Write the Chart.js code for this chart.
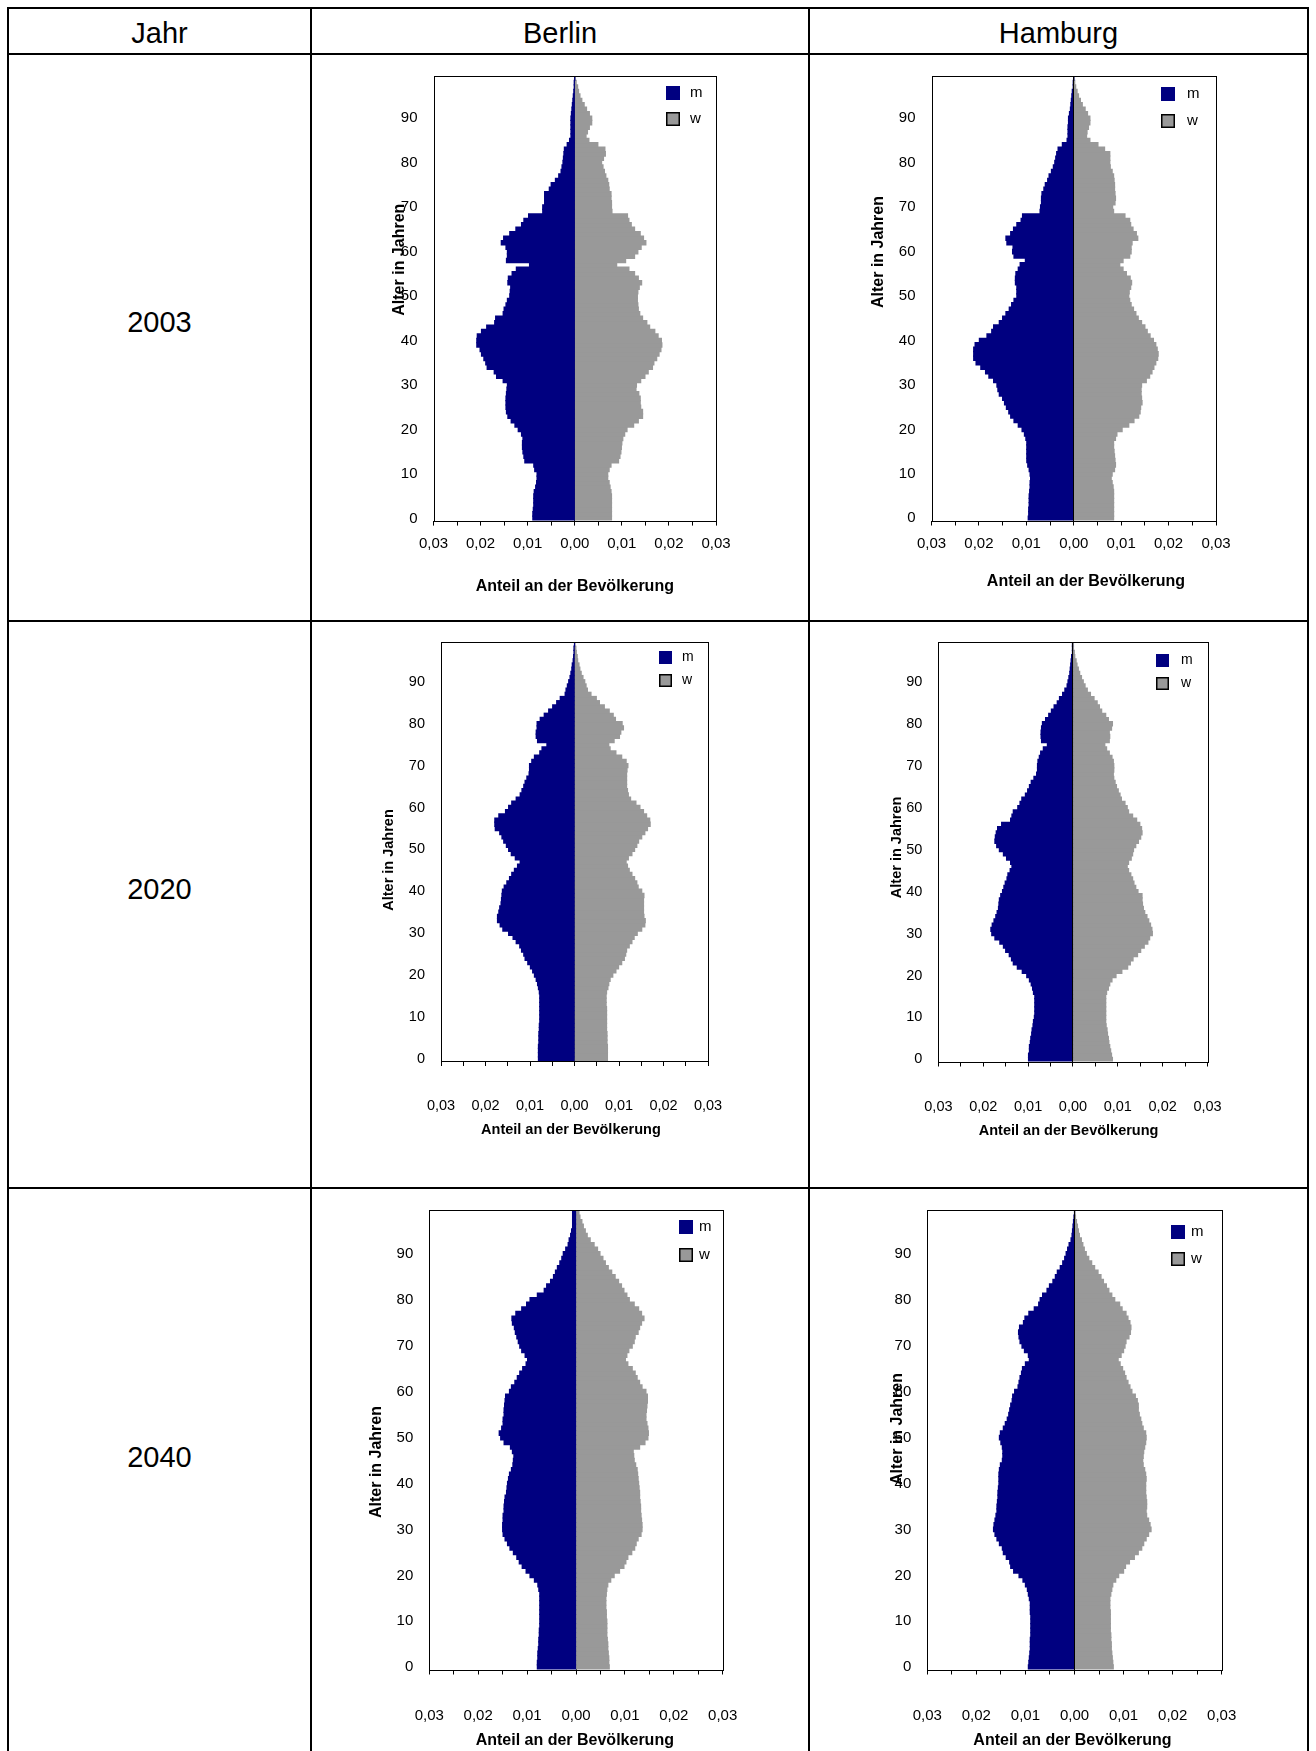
<!DOCTYPE html>
<html lang="de">
<head>
<meta charset="utf-8">
<title>Bevölkerungspyramiden Berlin und Hamburg</title>
<script src="https://cdn.jsdelivr.net/npm/chart.js@4.4.1/dist/chart.umd.min.js"></script>
<style>
  html, body { margin: 0; padding: 0; background: #fff; }
  body { width: 1316px; height: 1751px; position: relative; overflow: hidden; font-family: "Liberation Sans", Arial, sans-serif; color: #000; }
  .hl { position: absolute; left: 7px; width: 1302px; height: 2px; background: #000; }
  .vl { position: absolute; top: 7px; width: 2px; height: 1800px; background: #000; }
  .txt { position: absolute; font-size: 29px; line-height: 34px; height: 34px; text-align: center; }
  canvas { position: absolute; }
</style>
</head>
<body>
<!-- Tabellenlinien -->
<div class="hl" style="top:7px"></div>
<div class="hl" style="top:53px"></div>
<div class="hl" style="top:620px"></div>
<div class="hl" style="top:1187px"></div>
<div class="vl" style="left:7px"></div>
<div class="vl" style="left:310px"></div>
<div class="vl" style="left:808px"></div>
<div class="vl" style="left:1307px"></div>

<div class="txt" style="left:9px;width:301px;top:16px">Jahr</div>
<div class="txt" style="left:312px;width:496px;top:16px">Berlin</div>
<div class="txt" style="left:810px;width:497px;top:16px">Hamburg</div>
<div class="txt" style="left:9px;width:301px;top:305px">2003</div>
<div class="txt" style="left:9px;width:301px;top:872px">2020</div>
<div class="txt" style="left:9px;width:301px;top:1440px">2040</div>

<canvas id="b03" width="496" height="565" style="left:312px;top:55px"></canvas>
<canvas id="h03" width="497" height="565" style="left:810px;top:55px"></canvas>
<canvas id="b20" width="496" height="565" style="left:312px;top:622px"></canvas>
<canvas id="h20" width="497" height="565" style="left:810px;top:622px"></canvas>
<canvas id="b40" width="496" height="565" style="left:312px;top:1189px"></canvas>
<canvas id="h40" width="497" height="565" style="left:810px;top:1189px"></canvas>

<script>
// Alter 0..99 (Kategorien), Anteil an der Bevölkerung je Altersjahr
const ages = Array.from({ length: 100 }, (_, i) => i);
const ageTicks = [0, 10, 20, 30, 40, 50, 60, 70, 80, 90];
const xTickLabels = ['0,03', '0,02', '0,01', '0,00', '0,01', '0,02', '0,03'];
const yTitle = 'Alter in Jahren';
const xTitle = 'Anteil an der Bevölkerung';

const berlin2003M = [
  0.0089, 0.0089, 0.0088, 0.0087, 0.0087, 0.0087, 0.0086, 0.0083, 0.0081, 0.0080,
  0.0080, 0.0085, 0.0087, 0.0106, 0.0108, 0.0110, 0.0111, 0.0111, 0.0110, 0.0113,
  0.0120, 0.0127, 0.0135, 0.0142, 0.0145, 0.0146, 0.0146, 0.0146, 0.0145, 0.0144,
  0.0143, 0.0152, 0.0166, 0.0171, 0.0186, 0.0189, 0.0193, 0.0198, 0.0201, 0.0208,
  0.0208, 0.0207, 0.0198, 0.0187, 0.0170, 0.0168, 0.0152, 0.0150, 0.0146, 0.0143,
  0.0138, 0.0137, 0.0136, 0.0142, 0.0141, 0.0133, 0.0124, 0.0096, 0.0145, 0.0143,
  0.0143, 0.0146, 0.0156, 0.0151, 0.0138, 0.0125, 0.0113, 0.0108, 0.0098, 0.0068,
  0.0068, 0.0064, 0.0064, 0.0064, 0.0054, 0.0050, 0.0041, 0.0034, 0.0029, 0.0027,
  0.0025, 0.0024, 0.0023, 0.0022, 0.0016, 0.0011, 0.0008, 0.0008, 0.0008, 0.0008,
  0.0008, 0.0007, 0.0006, 0.0005, 0.0004, 0.0003, 0.0002, 0.0001, 0.0001, 0.0000
];
const berlin2003W = [
  0.0078, 0.0078, 0.0078, 0.0078, 0.0078, 0.0078, 0.0077, 0.0075, 0.0073, 0.0070,
  0.0070, 0.0073, 0.0077, 0.0093, 0.0096, 0.0098, 0.0099, 0.0100, 0.0102, 0.0106,
  0.0111, 0.0125, 0.0135, 0.0144, 0.0144, 0.0140, 0.0139, 0.0139, 0.0136, 0.0130,
  0.0131, 0.0140, 0.0149, 0.0156, 0.0165, 0.0168, 0.0174, 0.0179, 0.0183, 0.0185,
  0.0184, 0.0177, 0.0170, 0.0159, 0.0153, 0.0144, 0.0138, 0.0135, 0.0134, 0.0133,
  0.0133, 0.0134, 0.0137, 0.0142, 0.0135, 0.0127, 0.0115, 0.0089, 0.0108, 0.0127,
  0.0134, 0.0141, 0.0151, 0.0146, 0.0139, 0.0127, 0.0120, 0.0115, 0.0112, 0.0079,
  0.0078, 0.0078, 0.0077, 0.0077, 0.0073, 0.0072, 0.0070, 0.0066, 0.0063, 0.0060,
  0.0057, 0.0061, 0.0065, 0.0064, 0.0049, 0.0030, 0.0024, 0.0027, 0.0031, 0.0036,
  0.0036, 0.0031, 0.0025, 0.0020, 0.0015, 0.0011, 0.0008, 0.0006, 0.0003, 0.0001
];
const hamburg2003M = [
  0.0096, 0.0095, 0.0095, 0.0094, 0.0094, 0.0094, 0.0093, 0.0092, 0.0092, 0.0091,
  0.0092, 0.0094, 0.0097, 0.0099, 0.0099, 0.0099, 0.0099, 0.0099, 0.0101, 0.0104,
  0.0109, 0.0117, 0.0126, 0.0133, 0.0137, 0.0142, 0.0146, 0.0150, 0.0157, 0.0160,
  0.0162, 0.0169, 0.0179, 0.0186, 0.0196, 0.0206, 0.0211, 0.0211, 0.0211, 0.0208,
  0.0199, 0.0183, 0.0173, 0.0169, 0.0157, 0.0150, 0.0143, 0.0136, 0.0131, 0.0126,
  0.0120, 0.0120, 0.0120, 0.0123, 0.0123, 0.0122, 0.0117, 0.0113, 0.0102, 0.0126,
  0.0129, 0.0128, 0.0141, 0.0143, 0.0133, 0.0127, 0.0120, 0.0111, 0.0108, 0.0071,
  0.0070, 0.0068, 0.0068, 0.0067, 0.0063, 0.0060, 0.0055, 0.0052, 0.0047, 0.0043,
  0.0040, 0.0038, 0.0036, 0.0033, 0.0024, 0.0014, 0.0012, 0.0012, 0.0012, 0.0011,
  0.0011, 0.0009, 0.0007, 0.0006, 0.0005, 0.0004, 0.0003, 0.0001, 0.0001, 0.0000
];
const hamburg2003W = [
  0.0084, 0.0084, 0.0084, 0.0084, 0.0084, 0.0084, 0.0084, 0.0083, 0.0081, 0.0079,
  0.0081, 0.0086, 0.0088, 0.0087, 0.0086, 0.0085, 0.0084, 0.0084, 0.0088, 0.0091,
  0.0102, 0.0116, 0.0127, 0.0137, 0.0140, 0.0141, 0.0144, 0.0143, 0.0142, 0.0142,
  0.0143, 0.0153, 0.0160, 0.0165, 0.0169, 0.0173, 0.0177, 0.0178, 0.0176, 0.0173,
  0.0168, 0.0161, 0.0155, 0.0150, 0.0143, 0.0136, 0.0131, 0.0126, 0.0121, 0.0118,
  0.0116, 0.0117, 0.0120, 0.0122, 0.0119, 0.0111, 0.0104, 0.0097, 0.0104, 0.0118,
  0.0121, 0.0121, 0.0123, 0.0135, 0.0132, 0.0125, 0.0120, 0.0118, 0.0108, 0.0084,
  0.0082, 0.0087, 0.0088, 0.0087, 0.0086, 0.0086, 0.0085, 0.0084, 0.0081, 0.0077,
  0.0076, 0.0076, 0.0076, 0.0065, 0.0051, 0.0034, 0.0027, 0.0028, 0.0031, 0.0034,
  0.0034, 0.0029, 0.0024, 0.0018, 0.0014, 0.0010, 0.0007, 0.0004, 0.0002, 0.0001
];
const berlin2020M = [
  0.0081, 0.0081, 0.0081, 0.0081, 0.0080, 0.0080, 0.0080, 0.0079, 0.0079, 0.0078,
  0.0078, 0.0078, 0.0078, 0.0078, 0.0078, 0.0078, 0.0079, 0.0081, 0.0083, 0.0086,
  0.0090, 0.0094, 0.0099, 0.0105, 0.0111, 0.0114, 0.0119, 0.0123, 0.0131, 0.0138,
  0.0148, 0.0161, 0.0167, 0.0173, 0.0173, 0.0170, 0.0168, 0.0165, 0.0164, 0.0163,
  0.0162, 0.0158, 0.0152, 0.0146, 0.0141, 0.0135, 0.0128, 0.0122, 0.0133, 0.0142,
  0.0148, 0.0153, 0.0159, 0.0163, 0.0168, 0.0178, 0.0179, 0.0179, 0.0170, 0.0155,
  0.0148, 0.0141, 0.0131, 0.0122, 0.0118, 0.0114, 0.0111, 0.0107, 0.0102, 0.0101,
  0.0101, 0.0096, 0.0090, 0.0078, 0.0073, 0.0062, 0.0083, 0.0086, 0.0086, 0.0084,
  0.0084, 0.0077, 0.0068, 0.0058, 0.0049, 0.0040, 0.0032, 0.0021, 0.0019, 0.0016,
  0.0013, 0.0010, 0.0008, 0.0006, 0.0005, 0.0003, 0.0002, 0.0001, 0.0001, 0.0000
];
const berlin2020W = [
  0.0074, 0.0074, 0.0074, 0.0074, 0.0073, 0.0073, 0.0073, 0.0072, 0.0072, 0.0072,
  0.0072, 0.0072, 0.0072, 0.0071, 0.0071, 0.0071, 0.0072, 0.0075, 0.0077, 0.0080,
  0.0086, 0.0093, 0.0099, 0.0106, 0.0112, 0.0115, 0.0117, 0.0123, 0.0129, 0.0134,
  0.0141, 0.0151, 0.0158, 0.0159, 0.0156, 0.0155, 0.0155, 0.0155, 0.0155, 0.0156,
  0.0151, 0.0143, 0.0140, 0.0135, 0.0129, 0.0123, 0.0119, 0.0116, 0.0121, 0.0129,
  0.0135, 0.0140, 0.0144, 0.0151, 0.0158, 0.0164, 0.0170, 0.0169, 0.0162, 0.0155,
  0.0147, 0.0138, 0.0126, 0.0121, 0.0119, 0.0117, 0.0117, 0.0117, 0.0117, 0.0118,
  0.0120, 0.0116, 0.0106, 0.0093, 0.0080, 0.0077, 0.0089, 0.0101, 0.0104, 0.0110,
  0.0107, 0.0092, 0.0087, 0.0078, 0.0067, 0.0056, 0.0049, 0.0037, 0.0029, 0.0026,
  0.0023, 0.0019, 0.0015, 0.0012, 0.0010, 0.0007, 0.0006, 0.0004, 0.0003, 0.0001
];
const hamburg2020M = [
  0.0099, 0.0099, 0.0097, 0.0097, 0.0095, 0.0094, 0.0092, 0.0091, 0.0089, 0.0088,
  0.0086, 0.0085, 0.0085, 0.0085, 0.0085, 0.0085, 0.0088, 0.0090, 0.0093, 0.0097,
  0.0103, 0.0113, 0.0124, 0.0133, 0.0137, 0.0142, 0.0150, 0.0155, 0.0163, 0.0174,
  0.0181, 0.0183, 0.0180, 0.0176, 0.0172, 0.0169, 0.0166, 0.0165, 0.0164, 0.0161,
  0.0157, 0.0154, 0.0151, 0.0147, 0.0145, 0.0140, 0.0136, 0.0139, 0.0148, 0.0155,
  0.0164, 0.0170, 0.0174, 0.0173, 0.0171, 0.0168, 0.0159, 0.0139, 0.0136, 0.0133,
  0.0123, 0.0118, 0.0114, 0.0106, 0.0101, 0.0097, 0.0093, 0.0087, 0.0081, 0.0079,
  0.0079, 0.0078, 0.0075, 0.0072, 0.0066, 0.0057, 0.0070, 0.0071, 0.0071, 0.0070,
  0.0068, 0.0061, 0.0054, 0.0048, 0.0042, 0.0035, 0.0030, 0.0023, 0.0018, 0.0013,
  0.0011, 0.0009, 0.0007, 0.0006, 0.0005, 0.0004, 0.0003, 0.0001, 0.0001, 0.0001
];
const hamburg2020W = [
  0.0088, 0.0086, 0.0084, 0.0082, 0.0080, 0.0079, 0.0077, 0.0076, 0.0074, 0.0073,
  0.0073, 0.0073, 0.0073, 0.0073, 0.0073, 0.0073, 0.0075, 0.0079, 0.0082, 0.0087,
  0.0096, 0.0109, 0.0122, 0.0128, 0.0134, 0.0144, 0.0151, 0.0159, 0.0167, 0.0171,
  0.0177, 0.0176, 0.0173, 0.0169, 0.0165, 0.0160, 0.0157, 0.0155, 0.0154, 0.0154,
  0.0145, 0.0140, 0.0136, 0.0133, 0.0129, 0.0124, 0.0121, 0.0124, 0.0130, 0.0133,
  0.0135, 0.0140, 0.0146, 0.0151, 0.0154, 0.0153, 0.0149, 0.0142, 0.0133, 0.0124,
  0.0121, 0.0116, 0.0108, 0.0105, 0.0101, 0.0097, 0.0094, 0.0091, 0.0090, 0.0091,
  0.0091, 0.0090, 0.0087, 0.0081, 0.0075, 0.0071, 0.0081, 0.0082, 0.0081, 0.0086,
  0.0088, 0.0079, 0.0073, 0.0064, 0.0059, 0.0054, 0.0047, 0.0039, 0.0032, 0.0027,
  0.0023, 0.0019, 0.0015, 0.0012, 0.0009, 0.0007, 0.0004, 0.0003, 0.0001, 0.0001
];
const berlin2040M = [
  0.0079, 0.0079, 0.0078, 0.0078, 0.0077, 0.0076, 0.0076, 0.0075, 0.0075, 0.0074,
  0.0074, 0.0074, 0.0074, 0.0074, 0.0074, 0.0074, 0.0074, 0.0076, 0.0078, 0.0085,
  0.0094, 0.0102, 0.0110, 0.0116, 0.0121, 0.0128, 0.0135, 0.0140, 0.0145, 0.0149,
  0.0150, 0.0150, 0.0149, 0.0149, 0.0147, 0.0147, 0.0146, 0.0145, 0.0142, 0.0141,
  0.0140, 0.0138, 0.0136, 0.0132, 0.0129, 0.0128, 0.0127, 0.0130, 0.0134, 0.0147,
  0.0154, 0.0157, 0.0152, 0.0149, 0.0149, 0.0147, 0.0147, 0.0146, 0.0145, 0.0144,
  0.0136, 0.0132, 0.0125, 0.0120, 0.0115, 0.0109, 0.0102, 0.0099, 0.0104, 0.0111,
  0.0115, 0.0118, 0.0121, 0.0124, 0.0126, 0.0130, 0.0131, 0.0123, 0.0111, 0.0101,
  0.0094, 0.0079, 0.0065, 0.0060, 0.0052, 0.0046, 0.0042, 0.0038, 0.0033, 0.0029,
  0.0026, 0.0021, 0.0016, 0.0014, 0.0011, 0.0009, 0.0007, 0.0007, 0.0007, 0.0007
];
const berlin2040W = [
  0.0068, 0.0067, 0.0067, 0.0066, 0.0065, 0.0065, 0.0064, 0.0063, 0.0063, 0.0063,
  0.0063, 0.0062, 0.0062, 0.0061, 0.0061, 0.0061, 0.0062, 0.0063, 0.0065, 0.0071,
  0.0078, 0.0089, 0.0098, 0.0102, 0.0106, 0.0114, 0.0120, 0.0123, 0.0127, 0.0133,
  0.0135, 0.0135, 0.0134, 0.0133, 0.0132, 0.0132, 0.0131, 0.0130, 0.0130, 0.0129,
  0.0128, 0.0127, 0.0126, 0.0125, 0.0122, 0.0119, 0.0118, 0.0117, 0.0130, 0.0141,
  0.0147, 0.0148, 0.0147, 0.0145, 0.0143, 0.0143, 0.0144, 0.0145, 0.0146, 0.0146,
  0.0143, 0.0135, 0.0130, 0.0125, 0.0121, 0.0115, 0.0106, 0.0101, 0.0104, 0.0108,
  0.0115, 0.0119, 0.0121, 0.0127, 0.0130, 0.0134, 0.0139, 0.0134, 0.0128, 0.0119,
  0.0109, 0.0104, 0.0098, 0.0093, 0.0087, 0.0080, 0.0073, 0.0066, 0.0060, 0.0055,
  0.0049, 0.0044, 0.0037, 0.0029, 0.0023, 0.0019, 0.0015, 0.0012, 0.0008, 0.0006
];
const hamburg2040M = [
  0.0094, 0.0093, 0.0092, 0.0091, 0.0090, 0.0090, 0.0090, 0.0089, 0.0089, 0.0089,
  0.0089, 0.0089, 0.0090, 0.0090, 0.0090, 0.0092, 0.0094, 0.0096, 0.0100, 0.0105,
  0.0113, 0.0124, 0.0130, 0.0132, 0.0139, 0.0145, 0.0147, 0.0153, 0.0158, 0.0162,
  0.0165, 0.0164, 0.0162, 0.0160, 0.0158, 0.0158, 0.0157, 0.0156, 0.0156, 0.0155,
  0.0154, 0.0154, 0.0154, 0.0153, 0.0151, 0.0147, 0.0146, 0.0146, 0.0147, 0.0150,
  0.0153, 0.0151, 0.0145, 0.0141, 0.0137, 0.0134, 0.0132, 0.0130, 0.0127, 0.0126,
  0.0122, 0.0115, 0.0113, 0.0111, 0.0108, 0.0106, 0.0100, 0.0092, 0.0094, 0.0102,
  0.0107, 0.0111, 0.0113, 0.0114, 0.0112, 0.0104, 0.0101, 0.0093, 0.0082, 0.0073,
  0.0070, 0.0065, 0.0056, 0.0051, 0.0044, 0.0039, 0.0035, 0.0029, 0.0024, 0.0020,
  0.0017, 0.0014, 0.0011, 0.0007, 0.0005, 0.0004, 0.0003, 0.0002, 0.0001, 0.0000
];
const hamburg2040W = [
  0.0079, 0.0078, 0.0077, 0.0076, 0.0075, 0.0075, 0.0074, 0.0074, 0.0073, 0.0073,
  0.0073, 0.0073, 0.0073, 0.0072, 0.0072, 0.0072, 0.0074, 0.0076, 0.0078, 0.0084,
  0.0090, 0.0100, 0.0104, 0.0112, 0.0122, 0.0130, 0.0137, 0.0141, 0.0146, 0.0151,
  0.0156, 0.0154, 0.0151, 0.0147, 0.0146, 0.0147, 0.0147, 0.0146, 0.0145, 0.0145,
  0.0145, 0.0146, 0.0145, 0.0143, 0.0140, 0.0139, 0.0140, 0.0141, 0.0143, 0.0145,
  0.0146, 0.0145, 0.0140, 0.0137, 0.0135, 0.0132, 0.0130, 0.0130, 0.0128, 0.0124,
  0.0117, 0.0113, 0.0109, 0.0105, 0.0102, 0.0098, 0.0093, 0.0089, 0.0095, 0.0100,
  0.0103, 0.0105, 0.0111, 0.0114, 0.0115, 0.0113, 0.0109, 0.0105, 0.0097, 0.0092,
  0.0082, 0.0076, 0.0070, 0.0065, 0.0059, 0.0054, 0.0048, 0.0041, 0.0035, 0.0029,
  0.0024, 0.0020, 0.0017, 0.0014, 0.0010, 0.0008, 0.0006, 0.0004, 0.0002, 0.0001
];

const FONT = '"Liberation Sans", Arial, sans-serif';
Chart.defaults.font.family = FONT;
Chart.defaults.color = '#000';

const Y_AXIS_W = 40;
const X_AXIS_H = 60;

// Lage im Canvas: plot = [links, rechts, oben, unten]
// legend = [Abstand von rechts, oben m, oben w, Kästchen, Textabstand, Schrift]
const layouts = {
  b03: { plot: [121.5, 404, 21, 465.6], tickPad: 9.4, tick: 15, title: 16, xTitle: [262.8, 531.5], yTitle: [88, 204.7], legend: [50, 9.6, 36.4, 14, 10, 15], zeroOnTop: false },
  h03: { plot: [121.5, 406, 21, 465.5], tickPad: 9.5, tick: 15, title: 16, xTitle: [276, 527], yTitle: [69, 197], legend: [55, 11.4, 38, 14, 12, 15], zeroOnTop: true },
  b20: { plot: [129, 396, 20, 439], tickPad: 31.5, tick: 14.5, title: 14.5, xTitle: [258.9, 507.5], yTitle: [76.8, 238], legend: [49, 9.3, 32, 13, 10, 14], zeroOnTop: false },
  h20: { plot: [128.4, 397.5, 20, 439.5], tickPad: 32, tick: 14.5, title: 14.5, xTitle: [258.6, 508.6], yTitle: [87, 225.4], legend: [51.7, 11.8, 35, 13, 12, 14], zeroOnTop: true },
  b40: { plot: [117.3, 410.7, 21.4, 480.5], tickPad: 32.5, tick: 15, title: 16, xTitle: [262.8, 551.6], yTitle: [64.5, 273], legend: [44, 10, 38, 14, 6, 15], zeroOnTop: false },
  h40: { plot: [117.3, 411.7, 21.4, 480.5], tickPad: 32.5, tick: 15, title: 16, xTitle: [262.5, 551.6], yTitle: [88, 240], legend: [50.7, 14.3, 41.1, 14, 6, 15], zeroOnTop: true }
};

// Rahmen, Legende im Diagramm und Achsentitel
const pyramidDecor = {
  id: 'pyramidDecor',
  afterDraw(chart, args, o) {
    const { ctx, chartArea: a } = chart;
    ctx.save();
    ctx.strokeStyle = '#000';
    ctx.lineWidth = 1;
    ctx.strokeRect(Math.round(a.left) + 0.5, Math.round(a.top) + 0.5,
      Math.round(a.right) - Math.round(a.left), Math.round(a.bottom) - Math.round(a.top));

    const [fromRight, topM, topW, box, gap, size] = o.legend;
    const tops = [topM, topW];
    ctx.font = size + 'px ' + FONT;
    ctx.textBaseline = 'middle';
    ctx.textAlign = 'left';
    chart.data.datasets.forEach((ds, i) => {
      const x = Math.round(a.right - fromRight);
      const y = Math.round(a.top + tops[i]);
      ctx.fillStyle = ds.backgroundColor;
      ctx.fillRect(x, y, box, box);
      if (i === 1) {
        ctx.lineWidth = 1.5;
        ctx.strokeStyle = '#000';
        ctx.strokeRect(x + 0.75, y + 0.75, box - 1.5, box - 1.5);
      }
      ctx.fillStyle = '#000';
      ctx.fillText(ds.label, x + box + gap, y + box / 2);
    });

    ctx.font = 'bold ' + o.title + 'px ' + FONT;
    ctx.textAlign = 'center';
    ctx.fillText(xTitle, o.xTitle[0], o.xTitle[1]);
    ctx.translate(o.yTitle[0], o.yTitle[1]);
    ctx.rotate(-Math.PI / 2);
    ctx.fillText(yTitle, 0, 0);
    ctx.restore();
  }
};

function pyramid(id, male, female) {
  const L = layouts[id];
  const cv = document.getElementById(id);
  return new Chart(cv, {
    type: 'bar',
    data: {
      labels: ages,
      datasets: [
        { label: 'm', data: male.map(v => -v), backgroundColor: '#000080' },
        { label: 'w', data: female, backgroundColor: '#999999' }
      ]
    },
    options: {
      indexAxis: 'y',
      responsive: false,
      animation: false,
      events: [],
      layout: {
        padding: {
          left: L.plot[0] - Y_AXIS_W,
          right: cv.width - L.plot[1],
          top: L.plot[2],
          bottom: cv.height - L.plot[3] - X_AXIS_H
        }
      },
      datasets: { bar: { barPercentage: 1, categoryPercentage: 1, borderWidth: 0, inflateAmount: 0.6 } },
      plugins: {
        legend: { display: false },
        tooltip: { enabled: false },
        pyramidDecor: L
      },
      scales: {
        x: {
          type: 'linear',
          min: -0.03,
          max: 0.03,
          stacked: true,
          afterFit: s => { s.height = X_AXIS_H; },
          border: { display: false },
          grid: {
            color: c => (c.tick && Math.abs(c.tick.value) < 1e-9) ? '#000' : 'rgba(0,0,0,0)',
            tickColor: '#000',
            tickLength: 5,
            z: L.zeroOnTop ? 1 : 0
          },
          ticks: {
            stepSize: 0.005,
            autoSkip: false,
            maxRotation: 0,
            padding: L.tickPad,
            font: { size: L.tick },
            callback: (v, i) => i % 2 ? '' : xTickLabels[i / 2]
          }
        },
        y: {
          type: 'category',
          reverse: true,
          stacked: true,
          afterFit: s => { s.width = Y_AXIS_W; },
          border: { display: false },
          grid: { display: false },
          ticks: {
            autoSkip: false,
            padding: 8,
            font: { size: L.tick },
            callback: (v, i) => ageTicks.includes(ages[i]) ? String(ages[i]) : ''
          }
        }
      }
    },
    plugins: [pyramidDecor]
  });
}

pyramid('b03', berlin2003M, berlin2003W);
pyramid('h03', hamburg2003M, hamburg2003W);
pyramid('b20', berlin2020M, berlin2020W);
pyramid('h20', hamburg2020M, hamburg2020W);
pyramid('b40', berlin2040M, berlin2040W);
pyramid('h40', hamburg2040M, hamburg2040W);
</script>
</body>
</html>
